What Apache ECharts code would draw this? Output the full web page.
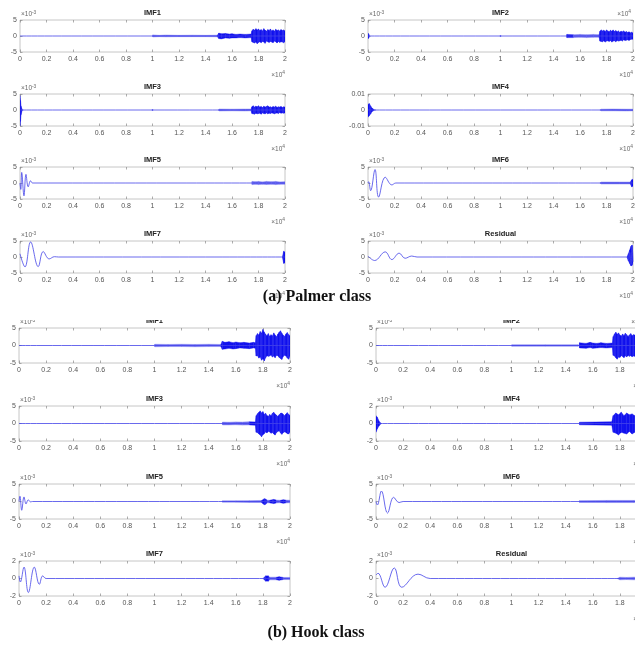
<!DOCTYPE html>
<html><head><meta charset="utf-8">
<script src="https://cdn.jsdelivr.net/npm/echarts@6/dist/echarts.min.js"></script>
<style>html,body{margin:0;padding:0;background:#fff}#c{width:635px;height:654px}</style>
</head><body><div id="c"></div>
<script>
// ---------- tick labels ----------
const xTickLabels = ['0','0.2','0.4','0.6','0.8','1','1.2','1.4','1.6','1.8','2'];
const yTicks5 = ['-5','0','5'];
const yTicks2 = ['-2','0','2'];
const yTicks10 = ['-0.01','0','0.01'];
const captions = ['(a) Palmer class', '(b) Hook class'];
const titlesA = ['IMF1','IMF2','IMF3','IMF4','IMF5','IMF6','IMF7','Residual'];
const titlesB = ['IMF1','IMF2','IMF3','IMF4','IMF5','IMF6','IMF7','Residual'];

// ---------- (a) Palmer class : x in 1e4 samples, y in 1e-3 ----------
const pa_imf1_wave = [[0,0],[2,0]];
const pa_imf1_env = [[1.0,0,0],[1.002,0.35,-0.3],[1.05,0.2,-0.2],[1.1,0.3,-0.25],[1.2,0.2,-0.2],[1.3,0.25,-0.2],[1.4,0.2,-0.2],[1.49,0.25,-0.25],
 [1.5,0.9,-0.8],[1.52,0.7,-0.9],[1.55,0.8,-0.6],[1.58,0.6,-0.7],[1.6,0.7,-0.6],[1.63,0.5,-0.6],[1.66,0.6,-0.5],[1.7,0.5,-0.6],[1.745,0.6,-0.5],
 [1.75,1.6,-1.8],[1.76,2.1,-2.0],[1.77,1.8,-2.2],[1.78,2.3,-1.9],[1.79,1.9,-2.4],[1.8,2.2,-2.0],[1.81,1.7,-1.8],[1.82,2.0,-2.1],[1.83,1.6,-1.7],[1.84,2.3,-1.9],[1.85,1.8,-2.3],[1.86,1.5,-1.6],[1.87,2.0,-1.8],[1.88,1.7,-2.0],[1.89,2.2,-1.7],[1.9,1.6,-1.9],[1.91,1.9,-2.1],[1.92,1.5,-1.6],[1.93,2.1,-1.8],[1.94,1.7,-2.2],[1.95,1.9,-1.7],[1.96,1.6,-2.0],[1.97,2.0,-1.8],[1.98,1.7,-1.9],[1.99,1.9,-2.1],[2.0,1.6,-1.7]];

const pa_imf2_wave = [[0,0],[2,0]];
const pa_imf2_env = [[0,0.9,-0.9],[0.008,0.4,-0.4],[0.015,0,0],[0.995,0,0],[1.0,0.3,-0.3],[1.005,0,0],
 [1.5,0,0],[1.501,0.5,-0.5],[1.55,0.4,-0.5],[1.6,0.5,-0.4],[1.65,0.4,-0.5],[1.7,0.5,-0.4],[1.745,0.4,-0.4],
 [1.75,1.5,-1.6],[1.76,1.9,-1.7],[1.77,1.6,-1.8],[1.78,1.8,-1.5],[1.79,1.4,-1.9],[1.8,1.9,-1.6],[1.81,1.6,-1.5],[1.82,1.3,-1.7],[1.83,1.8,-1.4],[1.84,1.5,-1.9],[1.85,1.9,-1.6],[1.86,1.4,-1.5],[1.87,1.7,-1.8],[1.88,1.3,-1.4],[1.89,1.6,-1.6],[1.9,1.2,-1.5],[1.91,1.5,-1.3],[1.92,1.3,-1.6],[1.93,1.6,-1.2],[1.94,1.2,-1.4],[1.95,1.4,-1.3],[1.96,1.1,-1.2],[1.97,1.3,-1.4],[1.98,1.0,-1.1],[1.99,1.2,-1.0],[2.0,0.9,-1.0]];

const pa_imf3_wave = [[0,0],[2,0]];
const pa_imf3_env = [[0,4.5,-5],[0.004,3,-3.5],[0.008,1.2,-1.5],[0.015,0.3,-0.3],[0.025,0,0],[0.995,0,0],[1.0,0.3,-0.3],[1.005,0,0],
 [1.5,0,0],[1.502,0.3,-0.3],[1.6,0.25,-0.25],[1.7,0.3,-0.3],[1.745,0.3,-0.25],
 [1.75,1.0,-1.1],[1.76,1.3,-1.2],[1.77,0.9,-1.3],[1.78,1.2,-1.0],[1.79,1.0,-1.2],[1.8,1.3,-1.1],[1.81,0.9,-1.0],[1.82,1.1,-1.3],[1.83,0.8,-0.9],[1.84,1.2,-1.1],[1.85,0.9,-1.2],[1.86,1.1,-0.9],[1.87,1.3,-1.2],[1.88,0.9,-1.0],[1.89,1.0,-1.1],[1.9,0.8,-0.9],[1.91,1.1,-1.0],[1.92,0.9,-1.2],[1.93,1.2,-1.0],[1.94,0.8,-0.9],[1.95,1.0,-1.1],[1.96,0.9,-0.8],[1.97,1.1,-1.0],[1.98,0.8,-0.9],[1.99,1.0,-1.0],[2.0,0.9,-0.9]];

const pa_imf4_wave = [[0,0],[2,0]];
const pa_imf4_env = [[0,3.5,-4.5],[0.01,4,-3.5],[0.02,2.5,-2.5],[0.03,1.2,-1],[0.045,0.3,-0.3],[0.06,0,0],
 [1.75,0,0],[1.76,0.5,-0.5],[1.85,0.6,-0.5],[1.95,0.5,-0.6],[2.0,0.5,-0.5]];

const pa_imf5_wave = [[0,0],[0.006,-2],[0.013,3.3],[0.03,-4],[0.045,2.7],[0.062,-1.2],[0.08,0.7],[0.095,0],[2,0]];
const pa_imf5_env = [[1.75,0,0],[1.752,0.5,-0.5],[1.78,0.4,-0.4],[1.8,0.5,-0.5],[1.83,0.35,-0.4],[1.86,0.5,-0.45],[1.9,0.4,-0.4],[1.93,0.5,-0.5],[1.96,0.35,-0.4],[2.0,0.4,-0.4]];

const pa_imf6_wave = [[0,0],[0.005,0.4],[0.02,-2.4],[0.053,4.2],[0.08,-4.4],[0.13,1.8],[0.18,-0.6],[0.21,0],[2,0]];
const pa_imf6_env = [[1.75,0,0],[1.76,0.3,-0.3],[1.9,0.3,-0.3],[1.98,0.3,-0.3],[1.99,1.0,-1.2],[2.0,1.2,-1.0]];

const pa_imf7_wave = [[0,1.0],[0.0375,-3.1],[0.08,4.7],[0.1375,-3],[0.175,1.7],[0.22,-0.6],[0.26,0.1],[0.29,0],[2,0]];
const pa_imf7_env = [[1.98,0,0],[1.99,1.8,-2.0],[2.0,1.5,-1.8]];

const pa_res_wave = [[0,0.3],[0.05,-1.1],[0.13,1.6],[0.18,-0.8],[0.235,1.2],[0.28,-0.4],[0.33,0.3],[0.37,0],[1.95,0],[1.965,-0.8],[1.975,1.5],[1.985,-2.3],[1.993,3.6],[2.0,-1.5]];
const pa_res_env = [[1.955,0,0],[1.965,1.0,-1.2],[1.975,2.2,-2.0],[1.985,3.4,-2.8],[1.993,3.7,-2.6],[2.0,2.4,-1.8]];

// ---------- (b) Hook class ----------
const pb_imf1_wave = [[0,0],[2,0]];
const pb_imf1_env = [[1.0,0,0],[1.002,0.35,-0.35],[1.1,0.3,-0.3],[1.2,0.35,-0.3],[1.3,0.3,-0.35],[1.4,0.35,-0.3],[1.49,0.3,-0.3],
 [1.5,1.2,-1.1],[1.52,0.9,-1.0],[1.55,1.1,-0.8],[1.58,0.8,-1.0],[1.6,1.0,-0.9],[1.63,0.8,-0.7],[1.66,0.9,-0.8],[1.7,0.7,-0.9],[1.73,0.9,-0.7],[1.745,0.8,-0.8],
 [1.75,2.8,-3.0],[1.76,3.4,-2.9],[1.77,3.0,-3.6],[1.78,4.0,-3.3],[1.79,3.5,-4.2],[1.8,4.6,-3.8],[1.81,3.8,-4.4],[1.82,3.2,-3.5],[1.83,2.8,-2.9],[1.84,3.4,-3.1],[1.85,2.6,-3.0],[1.86,3.1,-2.7],[1.87,2.7,-3.3],[1.88,3.6,-3.0],[1.89,3.0,-3.5],[1.9,2.5,-2.8],[1.91,3.2,-2.9],[1.92,3.8,-3.4],[1.93,4.2,-3.7],[1.94,3.5,-4.0],[1.95,2.9,-3.1],[1.96,2.6,-2.8],[1.97,3.3,-3.0],[1.98,3.7,-3.6],[1.99,3.1,-3.9],[2.0,2.8,-3.0]];

const pb_imf2_wave = [[0,0],[2,0]];
const pb_imf2_env = [[1.0,0,0],[1.002,0.2,-0.2],[1.25,0.2,-0.2],[1.49,0.2,-0.2],
 [1.5,0,0],[1.502,0.8,-0.7],[1.55,0.6,-0.8],[1.58,0.9,-0.6],[1.6,0.7,-0.8],[1.63,0.6,-0.7],[1.66,0.8,-0.6],[1.7,0.6,-0.7],[1.745,0.7,-0.6],
 [1.75,2.5,-2.8],[1.76,3.3,-3.0],[1.77,3.8,-3.5],[1.78,3.2,-3.9],[1.79,3.6,-3.3],[1.8,3.0,-3.4],[1.81,2.7,-2.9],[1.82,3.3,-3.1],[1.83,2.8,-3.5],[1.84,3.5,-2.9],[1.85,3.1,-3.3],[1.86,2.6,-2.8],[1.87,3.0,-3.1],[1.88,3.4,-2.9],[1.89,2.8,-3.2],[1.9,3.1,-3.0],[1.92,2.9,-3.2],[1.94,3.2,-2.8],[1.96,2.8,-3.0],[1.98,3.0,-2.9],[2.0,2.7,-2.8]];

const pb_imf3_wave = [[0,0],[2,0]];
const pb_imf3_env = [[1.5,0,0],[1.502,0.4,-0.4],[1.55,0.35,-0.4],[1.6,0.45,-0.35],[1.65,0.4,-0.45],[1.7,0.5,-0.4],[1.745,0.45,-0.5],
 [1.75,2.2,-2.5],[1.76,2.8,-2.6],[1.77,3.2,-3.0],[1.78,3.6,-3.3],[1.79,3.0,-3.8],[1.8,3.4,-3.2],[1.81,2.6,-2.9],[1.82,2.9,-2.4],[1.83,2.3,-2.7],[1.84,2.0,-2.2],[1.85,2.6,-2.4],[1.86,2.2,-2.8],[1.87,2.9,-2.5],[1.88,3.2,-3.0],[1.89,2.7,-3.3],[1.9,2.4,-2.6],[1.91,2.0,-2.3],[1.92,2.5,-2.1],[1.93,2.9,-2.7],[1.94,3.0,-3.1],[1.95,2.6,-2.6],[1.96,2.2,-2.4],[1.97,2.7,-2.5],[1.98,3.1,-2.9],[1.99,2.6,-3.0],[2.0,2.3,-2.4]];

const pb_imf4_wave = [[0,0],[2,0]];
const pb_imf4_env = [[0,0.9,-1.0],[0.01,0.7,-0.6],[0.025,0.2,-0.2],[0.04,0,0],
 [1.5,0,0],[1.502,0.15,-0.15],[1.74,0.2,-0.2],[1.75,0.9,-1.0],[1.77,1.2,-1.1],[1.79,1.0,-1.3],[1.81,1.3,-1.0],[1.83,0.9,-1.1],[1.85,1.2,-1.2],[1.87,1.0,-0.9],[1.89,1.1,-1.2],[1.91,0.9,-1.0],[1.93,1.1,-0.9],[1.96,0.9,-1.0],[2.0,0.8,-0.9]];

const pb_imf5_wave = [[0,0],[0.007,1.5],[0.02,-2.5],[0.037,1.3],[0.052,-0.7],[0.068,0.5],[0.085,-0.1],[0.1,0],[2,0]];
const pb_imf5_env = [[1.5,0,0],[1.502,0.2,-0.2],[1.6,0.2,-0.2],[1.7,0.25,-0.25],[1.79,0.3,-0.3],[1.8,0.5,-0.6],[1.81,0.8,-0.9],[1.82,0.7,-0.8],[1.83,0.4,-0.4],[1.85,0.35,-0.4],[1.87,0.5,-0.5],[1.88,0.6,-0.6],[1.9,0.4,-0.4],[1.93,0.35,-0.35],[1.95,0.5,-0.5],[1.97,0.4,-0.4],[2.0,0.35,-0.35]];

const pb_imf6_wave = [[0,0],[0.01,-1],[0.04,3],[0.085,-3.3],[0.13,1.2],[0.17,-0.3],[0.2,0],[2,0]];
const pb_imf6_env = [[1.5,0,0],[1.502,0.25,-0.25],[1.7,0.3,-0.3],[1.9,0.3,-0.3],[2.0,0.3,-0.3]];

const pb_imf7_wave = [[0,0.3],[0.01,-0.4],[0.037,1.3],[0.069,-1.6],[0.113,1.3],[0.15,-0.67],[0.175,0.3],[0.2,0],[2,0]];
const pb_imf7_env = [[1.8,0,0],[1.81,0.15,-0.15],[1.82,0.3,-0.3],[1.84,0.3,-0.3],[1.85,0.15,-0.15],[1.9,0.15,-0.15],[1.92,0.2,-0.2],[1.95,0.12,-0.12],[2.0,0.12,-0.12]];

const pb_res_wave = [[0,0.4],[0.015,0.6],[0.067,-1],[0.135,1.2],[0.19,-1],[0.31,0.5],[0.4,0],[2,0]];
const pb_res_env = [[1.78,0,0],[1.8,0.15,-0.15],[1.85,0.12,-0.12],[1.9,0.15,-0.15],[2.0,0.12,-0.12]];

// ---------- layout ----------
const layoutA = {lefts:[20,368], width:265, tops:[20,94,167,241], height:32};
const layoutB = {lefts:[19,376], width:271, tops:[328,406,484,561], height:35};

const panels = [
 {L:layoutA,c:0,r:0,t:titlesA[0],lab:yTicks5,lim:5,w:pa_imf1_wave,e:pa_imf1_env,e3:true,e4:true},
 {L:layoutA,c:1,r:0,t:titlesA[1],lab:yTicks5,lim:5,w:pa_imf2_wave,e:pa_imf2_env,e3:true,e4:true,e4top:true},
 {L:layoutA,c:0,r:1,t:titlesA[2],lab:yTicks5,lim:5,w:pa_imf3_wave,e:pa_imf3_env,e3:true,e4:true},
 {L:layoutA,c:1,r:1,t:titlesA[3],lab:yTicks10,lim:10,w:pa_imf4_wave,e:pa_imf4_env,e3:false,e4:true},
 {L:layoutA,c:0,r:2,t:titlesA[4],lab:yTicks5,lim:5,w:pa_imf5_wave,e:pa_imf5_env,e3:true,e4:true},
 {L:layoutA,c:1,r:2,t:titlesA[5],lab:yTicks5,lim:5,w:pa_imf6_wave,e:pa_imf6_env,e3:true,e4:true},
 {L:layoutA,c:0,r:3,t:titlesA[6],lab:yTicks5,lim:5,w:pa_imf7_wave,e:pa_imf7_env,e3:true,e4:true},
 {L:layoutA,c:1,r:3,t:titlesA[7],lab:yTicks5,lim:5,w:pa_res_wave,e:pa_res_env,e3:true,e4:true},
 {L:layoutB,c:0,r:0,t:titlesB[0],lab:yTicks5,lim:5,w:pb_imf1_wave,e:pb_imf1_env,e3:true,e4:true},
 {L:layoutB,c:1,r:0,t:titlesB[1],lab:yTicks5,lim:5,w:pb_imf2_wave,e:pb_imf2_env,e3:true,e4:true,e4top:true},
 {L:layoutB,c:0,r:1,t:titlesB[2],lab:yTicks5,lim:5,w:pb_imf3_wave,e:pb_imf3_env,e3:true,e4:true},
 {L:layoutB,c:1,r:1,t:titlesB[3],lab:yTicks2,lim:2,w:pb_imf4_wave,e:pb_imf4_env,e3:true,e4:true},
 {L:layoutB,c:0,r:2,t:titlesB[4],lab:yTicks5,lim:5,w:pb_imf5_wave,e:pb_imf5_env,e3:true,e4:true},
 {L:layoutB,c:1,r:2,t:titlesB[5],lab:yTicks5,lim:5,w:pb_imf6_wave,e:pb_imf6_env,e3:true,e4:true},
 {L:layoutB,c:0,r:3,t:titlesB[6],lab:yTicks2,lim:2,w:pb_imf7_wave,e:pb_imf7_env,e3:true,e4:false},
 {L:layoutB,c:1,r:3,t:titlesB[7],lab:yTicks2,lim:2,w:pb_res_wave,e:pb_res_env,e3:true,e4:true}
];

const GRAY = '#555', BORDER = '#b8b8b8', TICK = '#8a8a8a';
const FONT = '"Liberation Sans", Arial, sans-serif';

function renderEnv(params, api) {
  const a = api.coord([api.value(0), api.value(1)]);
  const b = api.coord([api.value(3), api.value(4)]);
  const c = api.coord([api.value(3), api.value(5)]);
  const d = api.coord([api.value(0), api.value(2)]);
  const amp = Math.max(Math.abs(a[1]-d[1]), Math.abs(b[1]-c[1]));
  if (amp < 0.05) return null;
  const col = amp < 3.2 ? '#6c6cf0' : '#1212ee';
  return {type:'polygon', shape:{points:[a,b,c,d]}, style:{fill:col, stroke:col, lineWidth:0.4}};
}

const grid = [], xAxis = [], yAxis = [], series = [], graphic = [];
const expRich = {a:{fontSize:6.5, fontFamily:FONT, fill:'#666'}, b:{fontSize:4.8, fontFamily:FONT, fill:'#666', padding:[0,0,4,0]}};

panels.forEach((p, i) => {
  const left = p.L.lefts[p.c], top = p.L.tops[p.r], W = p.L.width, H = p.L.height;
  grid.push({left:left, top:top, width:W, height:H, show:true, borderColor:BORDER, borderWidth:0.8,
    backgroundColor:'#fff', containLabel:false, outerBoundsMode:'none'});
  const xb = {type:'value', gridIndex:i, min:0, max:2, interval:0.2,
    axisLine:{show:false, onZero:false}, splitLine:{show:false},
    axisTick:{inside:true, length:2.5, lineStyle:{color:TICK, width:0.7}}};
  xAxis.push(Object.assign({}, xb, {position:'bottom',
    axisLabel:{fontSize:7, color:GRAY, margin:3.5, fontFamily:FONT,
      formatter:(v)=>xTickLabels[Math.round(v/0.2)]}}));
  xAxis.push(Object.assign({}, xb, {position:'top', axisLabel:{show:false}}));
  const yb = {type:'value', gridIndex:i, min:-p.lim, max:p.lim, interval:p.lim,
    axisLine:{show:false, onZero:false}, splitLine:{show:false},
    axisTick:{inside:true, length:2.5, lineStyle:{color:TICK, width:0.7}}};
  yAxis.push(Object.assign({}, yb, {position:'left',
    axisLabel:{fontSize:7, color:GRAY, margin:3, fontFamily:FONT,
      formatter:(v)=>p.lab[Math.round((v+p.lim)/p.lim)]}}));
  yAxis.push(Object.assign({}, yb, {position:'right', axisLabel:{show:false}}));

  series.push({type:'line', xAxisIndex:2*i, yAxisIndex:2*i, data:p.w, smooth:0.4,
    showSymbol:false, symbol:'none', clip:true, silent:true,
    lineStyle:{color:'#4444e8', width:0.8}});
  const segs = [];
  for (let k = 0; k + 1 < p.e.length; k++) {
    segs.push([p.e[k][0], p.e[k][1], p.e[k][2], p.e[k+1][0], p.e[k+1][1], p.e[k+1][2]]);
  }
  series.push({type:'custom', xAxisIndex:2*i, yAxisIndex:2*i, data:segs, renderItem:renderEnv,
    encode:{x:[0,3], y:[1,2,4,5]}, clip:true, silent:true});

  graphic.push({type:'text', x:left+W/2, y:top-7, z:50,
    style:{text:p.t, font:'bold 7.5px '+FONT, fill:'#222', textAlign:'center', textVerticalAlign:'middle'}});
  if (p.e3) graphic.push({type:'text', x:left+1, y:top-5.5, z:50,
    style:{text:'{a|×10}{b|-3}', rich:expRich, textAlign:'left', textVerticalAlign:'middle'}});
  if (p.e4) graphic.push({type:'text', x:left+W, y:top+H+23, z:50,
    style:{text:'{a|×10}{b|4}', rich:expRich, textAlign:'right', textVerticalAlign:'middle'}});
  if (p.e4top) graphic.push({type:'text', x:left+W-2, y:top-6, z:50,
    style:{text:'{a|×10}{b|4}', rich:expRich, textAlign:'right', textVerticalAlign:'middle'}});
});

// mask that hides the upper part of panel (b)'s first-row titles
graphic.push({type:'rect', shape:{x:0, y:305, width:635, height:15}, z:100, style:{fill:'#fff'}});
graphic.push({type:'text', x:317, y:297, z:101,
  style:{text:captions[0], font:'bold 16px "Liberation Serif", "Times New Roman", serif', fill:'#111', textAlign:'center', textVerticalAlign:'middle'}});
graphic.push({type:'text', x:316, y:633, z:101,
  style:{text:captions[1], font:'bold 16px "Liberation Serif", "Times New Roman", serif', fill:'#111', textAlign:'center', textVerticalAlign:'middle'}});

const chart = echarts.init(document.getElementById('c'), null, {renderer:'canvas'});
chart.setOption({animation:false, backgroundColor:'#fff', grid, xAxis, yAxis, series, graphic});
</script></body></html>
